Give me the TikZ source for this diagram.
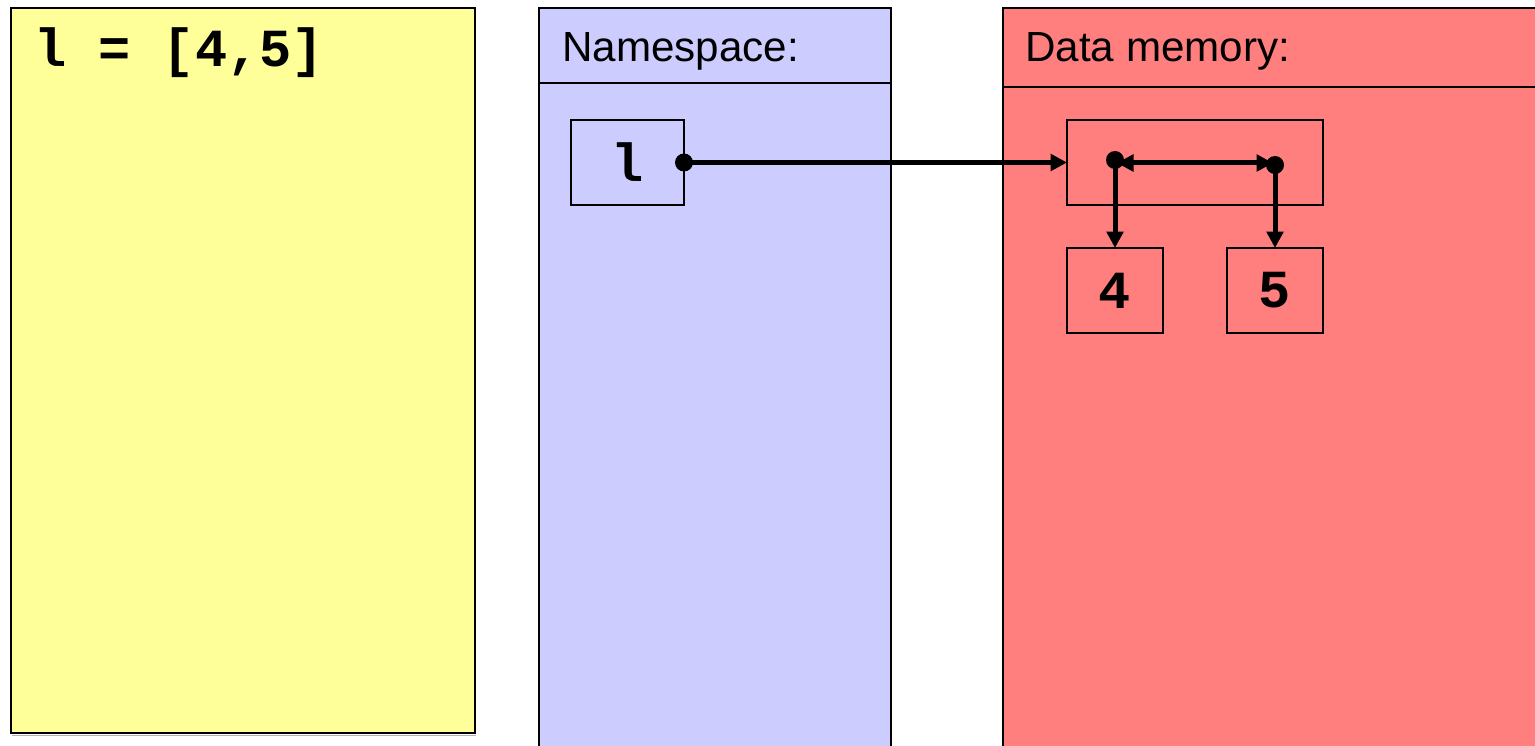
\documentclass[tikz,border=0pt]{standalone}
\usepackage{fontspec}
\setmainfont{Liberation Sans}
\newfontfamily\codefont{Liberation Mono}
\usetikzlibrary{arrows.meta}
\definecolor{codebg}{HTML}{FFFF99}
\definecolor{nsbg}{HTML}{CCCCFF}
\definecolor{membg}{HTML}{FF7F7F}
\tikzset{
  panel/.style={draw=black, line width=0.04cm, inner sep=0pt, outer sep=0pt},
  cell/.style={draw=black, line width=0.03cm, inner sep=0pt, outer sep=0pt,
    minimum height=1.7cm, font=\codefont\bfseries\fontsize{30.5}{31}\selectfont},
  title/.style={anchor=base west, inner sep=0pt, font=\fontsize{24}{26}\selectfont},
  tip/.tip={Triangle[length=0.33cm,width=0.33cm]},
  ref/.style={line width=0.1cm, -tip},
  dot/.style={fill=black}
}
\begin{document}
\begin{tikzpicture}[x=0.02cm, y=-0.02cm]
\useasboundingbox (0,0) rectangle (1535,746);
\begin{scope}
\clip (0,0) rectangle (1535,746);
% code panel with a faint shadow
\draw[gray!60, line width=0.03cm] (12,735.5) -- (476,735.5);
\node[panel, fill=codebg, minimum width=9.28cm, minimum height=14.5cm] (codepanel) at (243,370.5) {};
\node[anchor=base west, inner sep=0pt, font=\codefont\bfseries\fontsize{30.5}{31}\selectfont] (code) at (34,67) {l = [4,5]};
% namespace panel
\node[panel, fill=nsbg, minimum width=7.04cm, minimum height=15.04cm] (nspanel) at (715,384) {};
\draw[line width=0.04cm] (539,83) -- (891,83);
\node[title] (nstitle) at (562,62) {Namespace:};
% data memory panel
\node[panel, fill=membg, minimum width=11.14cm, minimum height=15.04cm] (mempanel) at (1281.5,384) {};
\draw[line width=0.04cm] (1003,87) -- (1560,87);
\node[title] (memtitle) at (1025,62) {Data memory:};
\end{scope}
% names and objects
\node[cell, minimum width=2.26cm] (lbox) at (627.5,162.5) {l};
\node[cell, minimum width=5.12cm] (list) at (1195,162.5) {};
\node[cell, minimum width=1.92cm] (four) at (1115,290.5) {4};
\node[cell, minimum width=1.92cm] (five) at (1275,290.5) {5};
% slots of the list object
\coordinate (slot0) at (1115,160);
\coordinate (slot1) at (1275,165);
% references
\draw[ref] (lbox.east) -- (list.west);
\draw[ref] (slot0) -- (four.north -| slot0);
\draw[ref] (slot1) -- (five.north -| slot1);
\draw[line width=0.1cm, tip-tip] ([xshift=0.04cm]slot0 |- 0,163) -- ([xshift=-0.04cm]slot1 |- 0,163);
\fill[dot] (lbox.east) circle (0.18cm);
\fill[dot] (slot0) circle (0.18cm);
\fill[dot] (slot1) circle (0.18cm);
\end{tikzpicture}
\end{document}
